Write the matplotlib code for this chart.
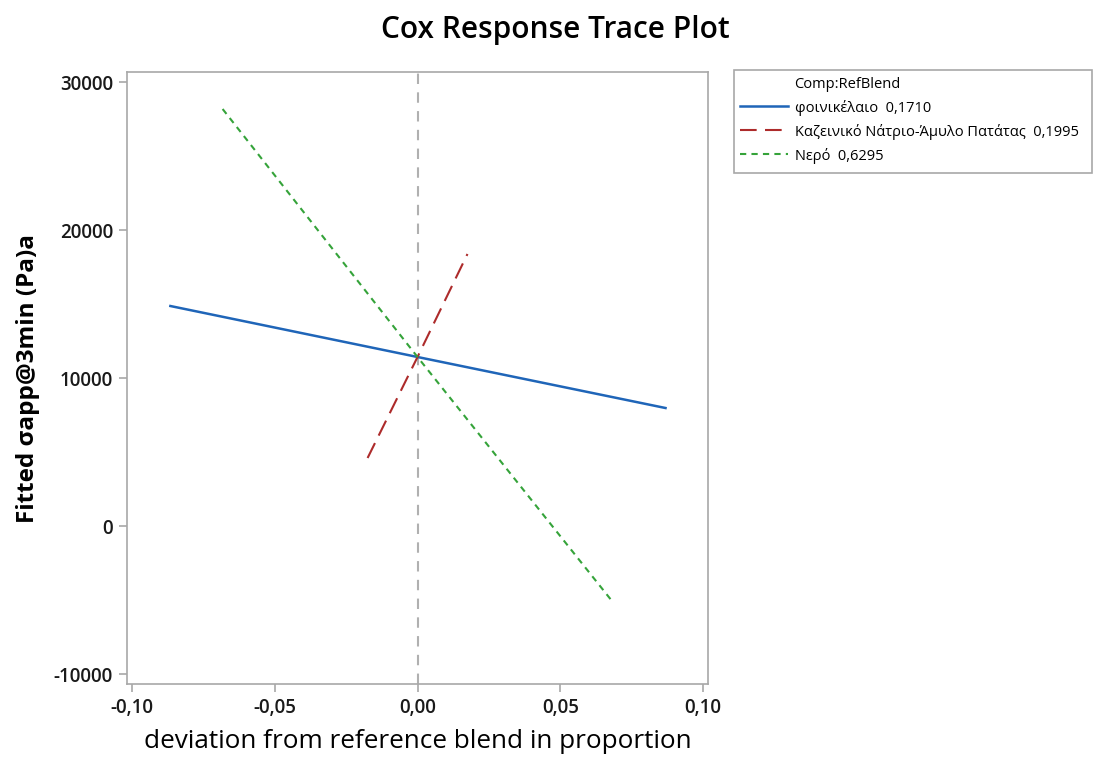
import matplotlib
matplotlib.use("Agg")
import matplotlib.pyplot as plt
from matplotlib.lines import Line2D
from matplotlib.patches import Rectangle
from matplotlib.ticker import FuncFormatter

plt.rcParams['font.family'] = ['Open Sans', 'DejaVu Sans']

# trace data: deviation from reference blend vs fitted response
dev_oil = [-0.0866, 0.0, 0.0869]
fit_oil = [14865, 11420, 7973]
dev_cas = [-0.0175, 0.0, 0.0175]
fit_cas = [4595, 11420, 18380]
dev_water = [-0.0683, 0.0, 0.0687]
fit_water = [28176, 11420, -5203]

labels = ['φοινικέλαιο  0,1710',
          'Καζεινικό Νάτριο-Άμυλο Πατάτας  0,1995',
          'Νερό  0,6295']
legend_title = 'Comp:RefBlend'
xticks = [-0.10, -0.05, 0.0, 0.05, 0.10]
yticks = [-10000, 0, 10000, 20000, 30000]

fig = plt.figure(figsize=(10.94, 7.58), dpi=100)
ax = fig.add_axes([0.1161, 0.0976, 0.5311, 0.8074])

ax.axvline(0, color='#b0b0b0', lw=1.5, ls=(0, (5, 4)), zorder=1)
l1, = ax.plot(dev_oil, fit_oil, color='#1f65b8', lw=1.8)
l2, = ax.plot(dev_cas, fit_cas, color='#ad2b2b', lw=1.5, ls=(0, (8, 4)))
l3, = ax.plot(dev_water, fit_water, color='#35a33a', lw=1.5, ls=(0, (3, 2.5)))

ax.set_xlim(-0.1018, 0.1018)
ax.set_ylim(-10676, 30676)
ax.set_xticks(xticks)
ax.set_yticks(yticks)
ax.xaxis.set_major_formatter(FuncFormatter(lambda v, p: f'{v:.2f}'.replace('.', ',')))
ax.yaxis.set_major_formatter(FuncFormatter(lambda v, p: f'{v:.0f}'))
for s in ax.spines.values():
    s.set_color('#a8a8a8')
    s.set_linewidth(1.2)
ax.tick_params(direction='out', length=6, width=1.2, color='#a8a8a8',
               labelsize=13.5, labelcolor='#1a1a1a', pad=4)
for t in ax.get_xticklabels() + ax.get_yticklabels():
    t.set_fontweight('semibold')

ax.set_xlabel('deviation from reference blend in proportion', fontsize=18.8, labelpad=8)
ax.set_ylabel('Fitted σapp@3min (Pa)a', fontsize=17.5, fontweight='bold', labelpad=10)
fig.text(0.508, 0.96, 'Cox Response Trace Plot', ha='center', va='center',
         fontsize=21.5, fontweight='semibold')

# legend box in figure coords
x0, y0 = 734 / 1094, 1 - 173 / 758
w, h = 358 / 1094, (173 - 70) / 758
fig.patches.append(Rectangle((x0, y0), w, h, transform=fig.transFigure,
                             fill=False, edgecolor='#a8a8a8', lw=1.2))
blank = Line2D([], [], color='none')
leg = fig.legend([blank, l1, l2, l3], [legend_title] + labels,
                 loc='upper left', bbox_to_anchor=(x0 - 0.002, y0 + h + 0.002),
                 frameon=False, fontsize=10.5, handlelength=3.3,
                 handletextpad=0.45, labelspacing=0.55, borderaxespad=0.0,
                 borderpad=0.55)

fig.savefig('out.png', dpi=100)
